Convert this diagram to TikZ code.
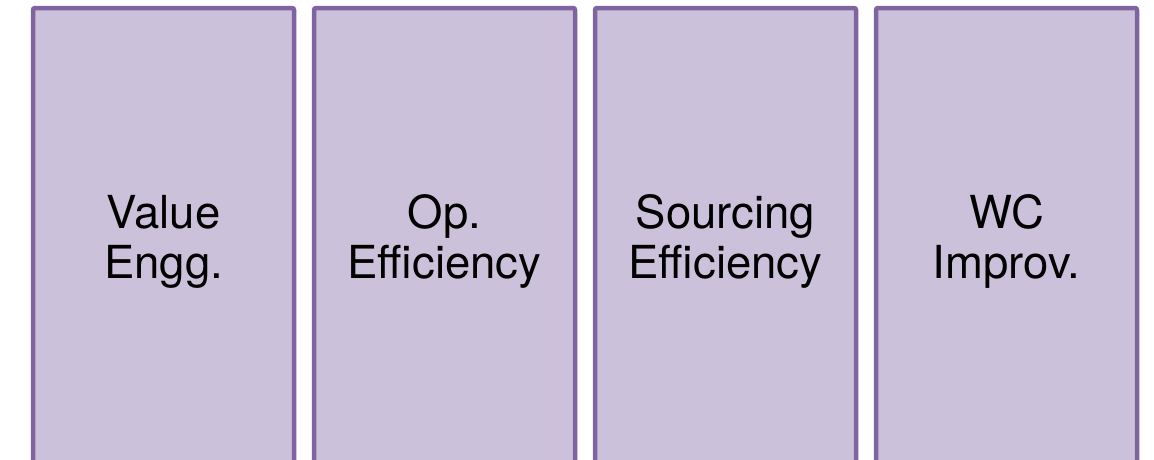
\documentclass[tikz,border=0pt]{standalone}
\usepackage{fontspec}
\setmainfont{TeX Gyre Heros}
\usetikzlibrary{positioning}
\definecolor{lever}{HTML}{8064A2}
\definecolor{leverfill}{HTML}{CCC1DA}

\begin{document}
\begin{tikzpicture}[
  x=1pt, y=1pt,
  node distance=20pt,
  lever/.style={
    draw=lever, fill=leverfill, line width=4.5pt,
    rounded corners=2pt, minimum width=261pt,
    minimum height=467pt, inner sep=0pt, outer sep=0pt,
    align=center, font=\fontsize{45.5}{50}\selectfont
  }
]
  \useasboundingbox (0,0) rectangle (1154,-459);

  \node[lever, anchor=north west] (value) at (33,-8) {Value\\Engg.};
  \node[lever] (operations) [right=of value]      {Op.\\Efficiency};
  \node[lever] (sourcing)   [right=of operations] {Sourcing\\Efficiency};
  \node[lever] (capital)    [right=of sourcing]   {WC\\Improv.};
\end{tikzpicture}
\end{document}
